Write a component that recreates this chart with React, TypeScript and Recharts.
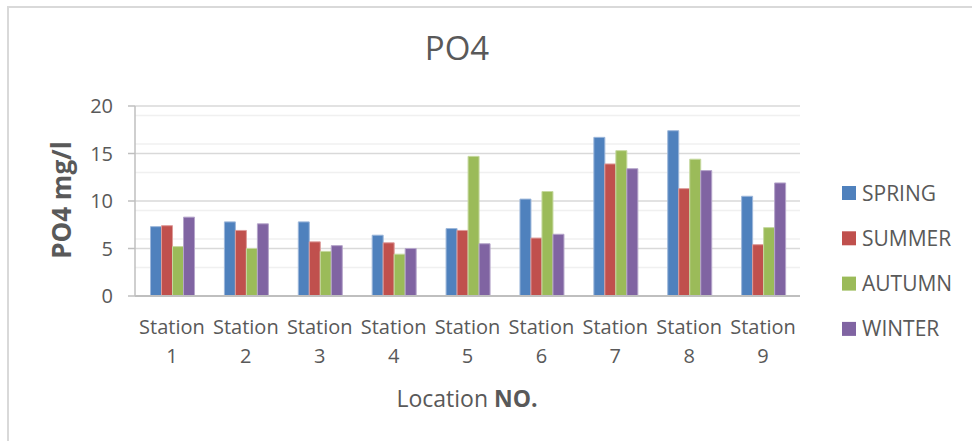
import { BarChart, Bar, XAxis, YAxis, CartesianGrid } from 'recharts';

const stations = [
  'Station 1',
  'Station 2',
  'Station 3',
  'Station 4',
  'Station 5',
  'Station 6',
  'Station 7',
  'Station 8',
  'Station 9',
];
const spring = [7.3, 7.8, 7.8, 6.4, 7.1, 10.2, 16.7, 17.4, 10.5];
const summer = [7.4, 6.9, 5.7, 5.6, 6.9, 6.1, 13.9, 11.3, 5.4];
const autumn = [5.2, 5.0, 4.7, 4.4, 14.7, 11.0, 15.3, 14.4, 7.2];
const winter = [8.3, 7.6, 5.3, 5.0, 5.5, 6.5, 13.4, 13.2, 11.9];

const yTicks = [0, 5, 10, 15, 20];
const minorTicks = [1, 2, 3, 4, 6, 7, 8, 9, 11, 12, 13, 14, 16, 17, 18, 19];

const series = [
  { key: 'spring', name: 'SPRING', fill: '#4F81BD', stroke: '#9DB7DA' },
  { key: 'summer', name: 'SUMMER', fill: '#C0504D', stroke: '#DD9B99' },
  { key: 'autumn', name: 'AUTUMN', fill: '#9BBB59', stroke: '#C6D9A0' },
  { key: 'winter', name: 'WINTER', fill: '#8064A2', stroke: '#B5A5CA' },
];

const data = stations.map((s, i) => ({
  station: s,
  spring: spring[i],
  summer: summer[i],
  autumn: autumn[i],
  winter: winter[i],
}));

const FONT = '"Open Sans", "DejaVu Sans", sans-serif';
const TEXT = '#595959';

// two-line category label: "Station" over the number
function StationTick({ x, y, payload }: any) {
  const [word, num] = String(payload.value).split(' ');
  return (
    <text x={x} textAnchor="middle" fontFamily={FONT} fontSize={20} fill={TEXT}>
      <tspan x={x} y={y + 38}>{word}</tspan>
      <tspan x={x} y={y + 67}>{num}</tspan>
    </text>
  );
}

export default function App() {
  return (
    <div
      style={{
        position: 'absolute',
        left: 0,
        top: 0,
        width: 972,
        height: 441,
        background: '#fff',
        overflow: 'hidden',
        fontFamily: FONT,
      }}
    >
      <div
        style={{
          position: 'absolute',
          left: 7,
          top: 6,
          width: 1000,
          height: 500,
          borderLeft: '2px solid #D9D9D9',
          borderTop: '2px solid #D9D9D9',
        }}
      />
      <BarChart
        width={972}
        height={441}
        data={data}
        margin={{ top: 106, right: 172, bottom: 85, left: 0 }}
        barCategoryGap="21%"
        barGap={0}
        style={{ position: 'absolute', left: 0, top: 0 }}
      >
        <CartesianGrid vertical={false} horizontalValues={minorTicks} stroke="#F0F0F0" strokeWidth={1.5} />
        <CartesianGrid vertical={false} horizontalValues={yTicks} stroke="#D9D9D9" strokeWidth={1.5} />
        <XAxis
          dataKey="station"
          height={60}
          interval={0}
          tickLine={false}
          tickSize={0}
          tickMargin={0}
          axisLine={{ stroke: '#BFBFBF', strokeWidth: 2 }}
          tick={<StationTick />}
        />
        <YAxis
          width={135}
          domain={[0, 20]}
          ticks={yTicks}
          tickSize={7}
          tickMargin={15}
          axisLine={{ stroke: '#BFBFBF', strokeWidth: 1.5 }}
          tickLine={{ stroke: '#BFBFBF', strokeWidth: 1.5 }}
          tick={{ fontFamily: FONT, fontSize: 20, fill: TEXT }}
        />
        {series.map((s) => (
          <Bar
            key={s.key}
            dataKey={s.key}
            name={s.name}
            fill={s.fill}
            stroke={s.stroke}
            strokeWidth={1}
            isAnimationActive={false}
          />
        ))}
      </BarChart>
      <svg
        width={972}
        height={441}
        style={{ position: 'absolute', left: 0, top: 0, pointerEvents: 'none' }}
      >
        <text x={457} y={60} textAnchor="middle" fontFamily={FONT} fontSize={33} fill={TEXT}>
          PO4
        </text>
        <text
          x={61}
          y={200}
          transform="rotate(-90, 61, 200)"
          textAnchor="middle"
          dominantBaseline="central"
          fontFamily={FONT}
          fontSize={26}
          fontWeight="bold"
          fill={TEXT}
        >
          PO4 mg/l
        </text>
        <text x={467} y={407} textAnchor="middle" fontFamily={FONT} fontSize={23} fill={TEXT}>
          Location <tspan fontWeight="bold">NO.</tspan>
        </text>
        {series.map((s, i) => (
          <g key={s.key}>
            <rect x={842} y={186 + i * 45.3} width={14} height={14} fill={s.fill} />
            <text x={862} y={200.5 + i * 45.3} fontFamily={FONT} fontSize={21} fill={TEXT}>
              {s.name}
            </text>
          </g>
        ))}
      </svg>
    </div>
  );
}
